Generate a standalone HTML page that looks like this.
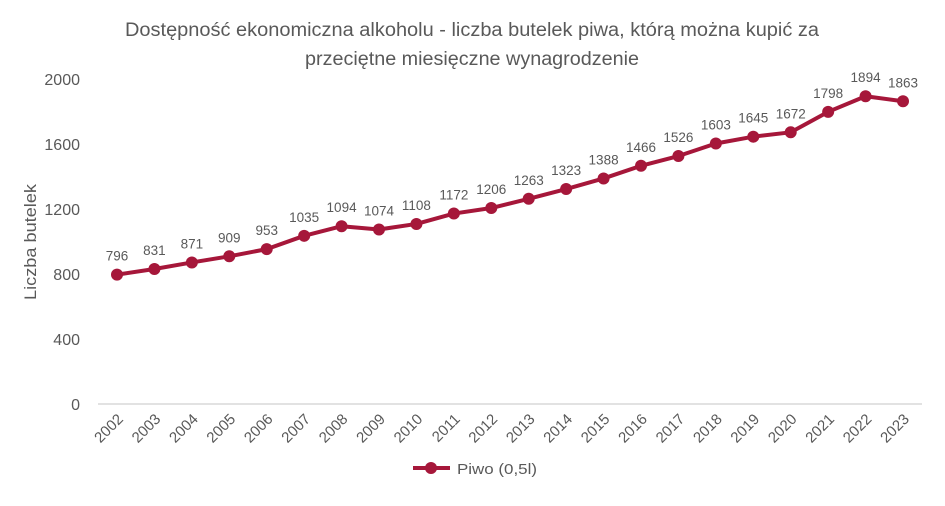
<!DOCTYPE html>
<html><head><meta charset="utf-8"><style>
body{margin:0;background:#fff;}
svg text{font-family:"Liberation Sans",sans-serif;fill:#595959;}
</style></head><body>
<svg id="chart" width="945" height="501" viewBox="0 0 945 501" xmlns="http://www.w3.org/2000/svg">
<text x="472" y="36" text-anchor="middle" font-size="19" textLength="694" lengthAdjust="spacingAndGlyphs">Dostępność ekonomiczna alkoholu - liczba butelek piwa, którą można kupić za</text>
<text x="472" y="65" text-anchor="middle" font-size="19" textLength="334" lengthAdjust="spacingAndGlyphs">przeciętne miesięczne wynagrodzenie</text>
<text transform="translate(36,242) rotate(-90)" text-anchor="middle" font-size="17" textLength="116" lengthAdjust="spacingAndGlyphs">Liczba butelek</text>
<line x1="98" y1="404" x2="922" y2="404" stroke="#d9d9d9" stroke-width="1.5"/>
<g id="yticks"></g><g id="xticks"></g><g id="series"></g><g id="labels"></g>
<g>
<line x1="413" y1="468" x2="450" y2="468" stroke="#a6173a" stroke-width="4"/>
<circle cx="431" cy="468" r="6" fill="#a6173a"/>
<text x="457" y="474" font-size="15" textLength="80" lengthAdjust="spacingAndGlyphs">Piwo (0,5l)</text>
</g>
</svg>
<script>
const years=["2002","2003","2004","2005","2006","2007","2008","2009","2010","2011","2012","2013","2014","2015","2016","2017","2018","2019","2020","2021","2022","2023"];
const values=[796,831,871,909,953,1035,1094,1074,1108,1172,1206,1263,1323,1388,1466,1526,1603,1645,1672,1798,1894,1863];
const yTicks=[0,400,800,1200,1600,2000];
const NS="http://www.w3.org/2000/svg";
function xS(i){return 117+i*(903-117)/(years.length-1);}
function yS(v){return 404-v*(325/2000);}
function mk(tag,attrs,parent,txt){const e=document.createElementNS(NS,tag);for(const k in attrs)e.setAttribute(k,attrs[k]);if(txt!==undefined)e.textContent=txt;parent.appendChild(e);return e;}
const yt=document.getElementById('yticks');
yTicks.forEach(v=>{const t=mk('text',{x:80,y:yS(v)+6,'text-anchor':'end','font-size':'16'},yt,String(v));

});
const xt=document.getElementById('xticks');
years.forEach((y,i)=>{const t=mk('text',{transform:`translate(${xS(i)+7},${420}) rotate(-45)`,'text-anchor':'end','font-size':'15'},xt,y);

});
const s=document.getElementById('series');
const p=mk('polyline',{points:values.map((v,i)=>xS(i)+','+yS(v)).join(' '),fill:'none',stroke:'#a6173a','stroke-width':'4','stroke-linejoin':'round'},s);


const lb=document.getElementById('labels');
values.forEach((v,i)=>{const c=mk('circle',{cx:xS(i),cy:yS(v),r:6,fill:'#a6173a'},s);


const t=mk('text',{x:xS(i),y:yS(v)-14,'text-anchor':'middle','font-size':'13.5'},lb,String(v));

});
</script>
</body></html>
